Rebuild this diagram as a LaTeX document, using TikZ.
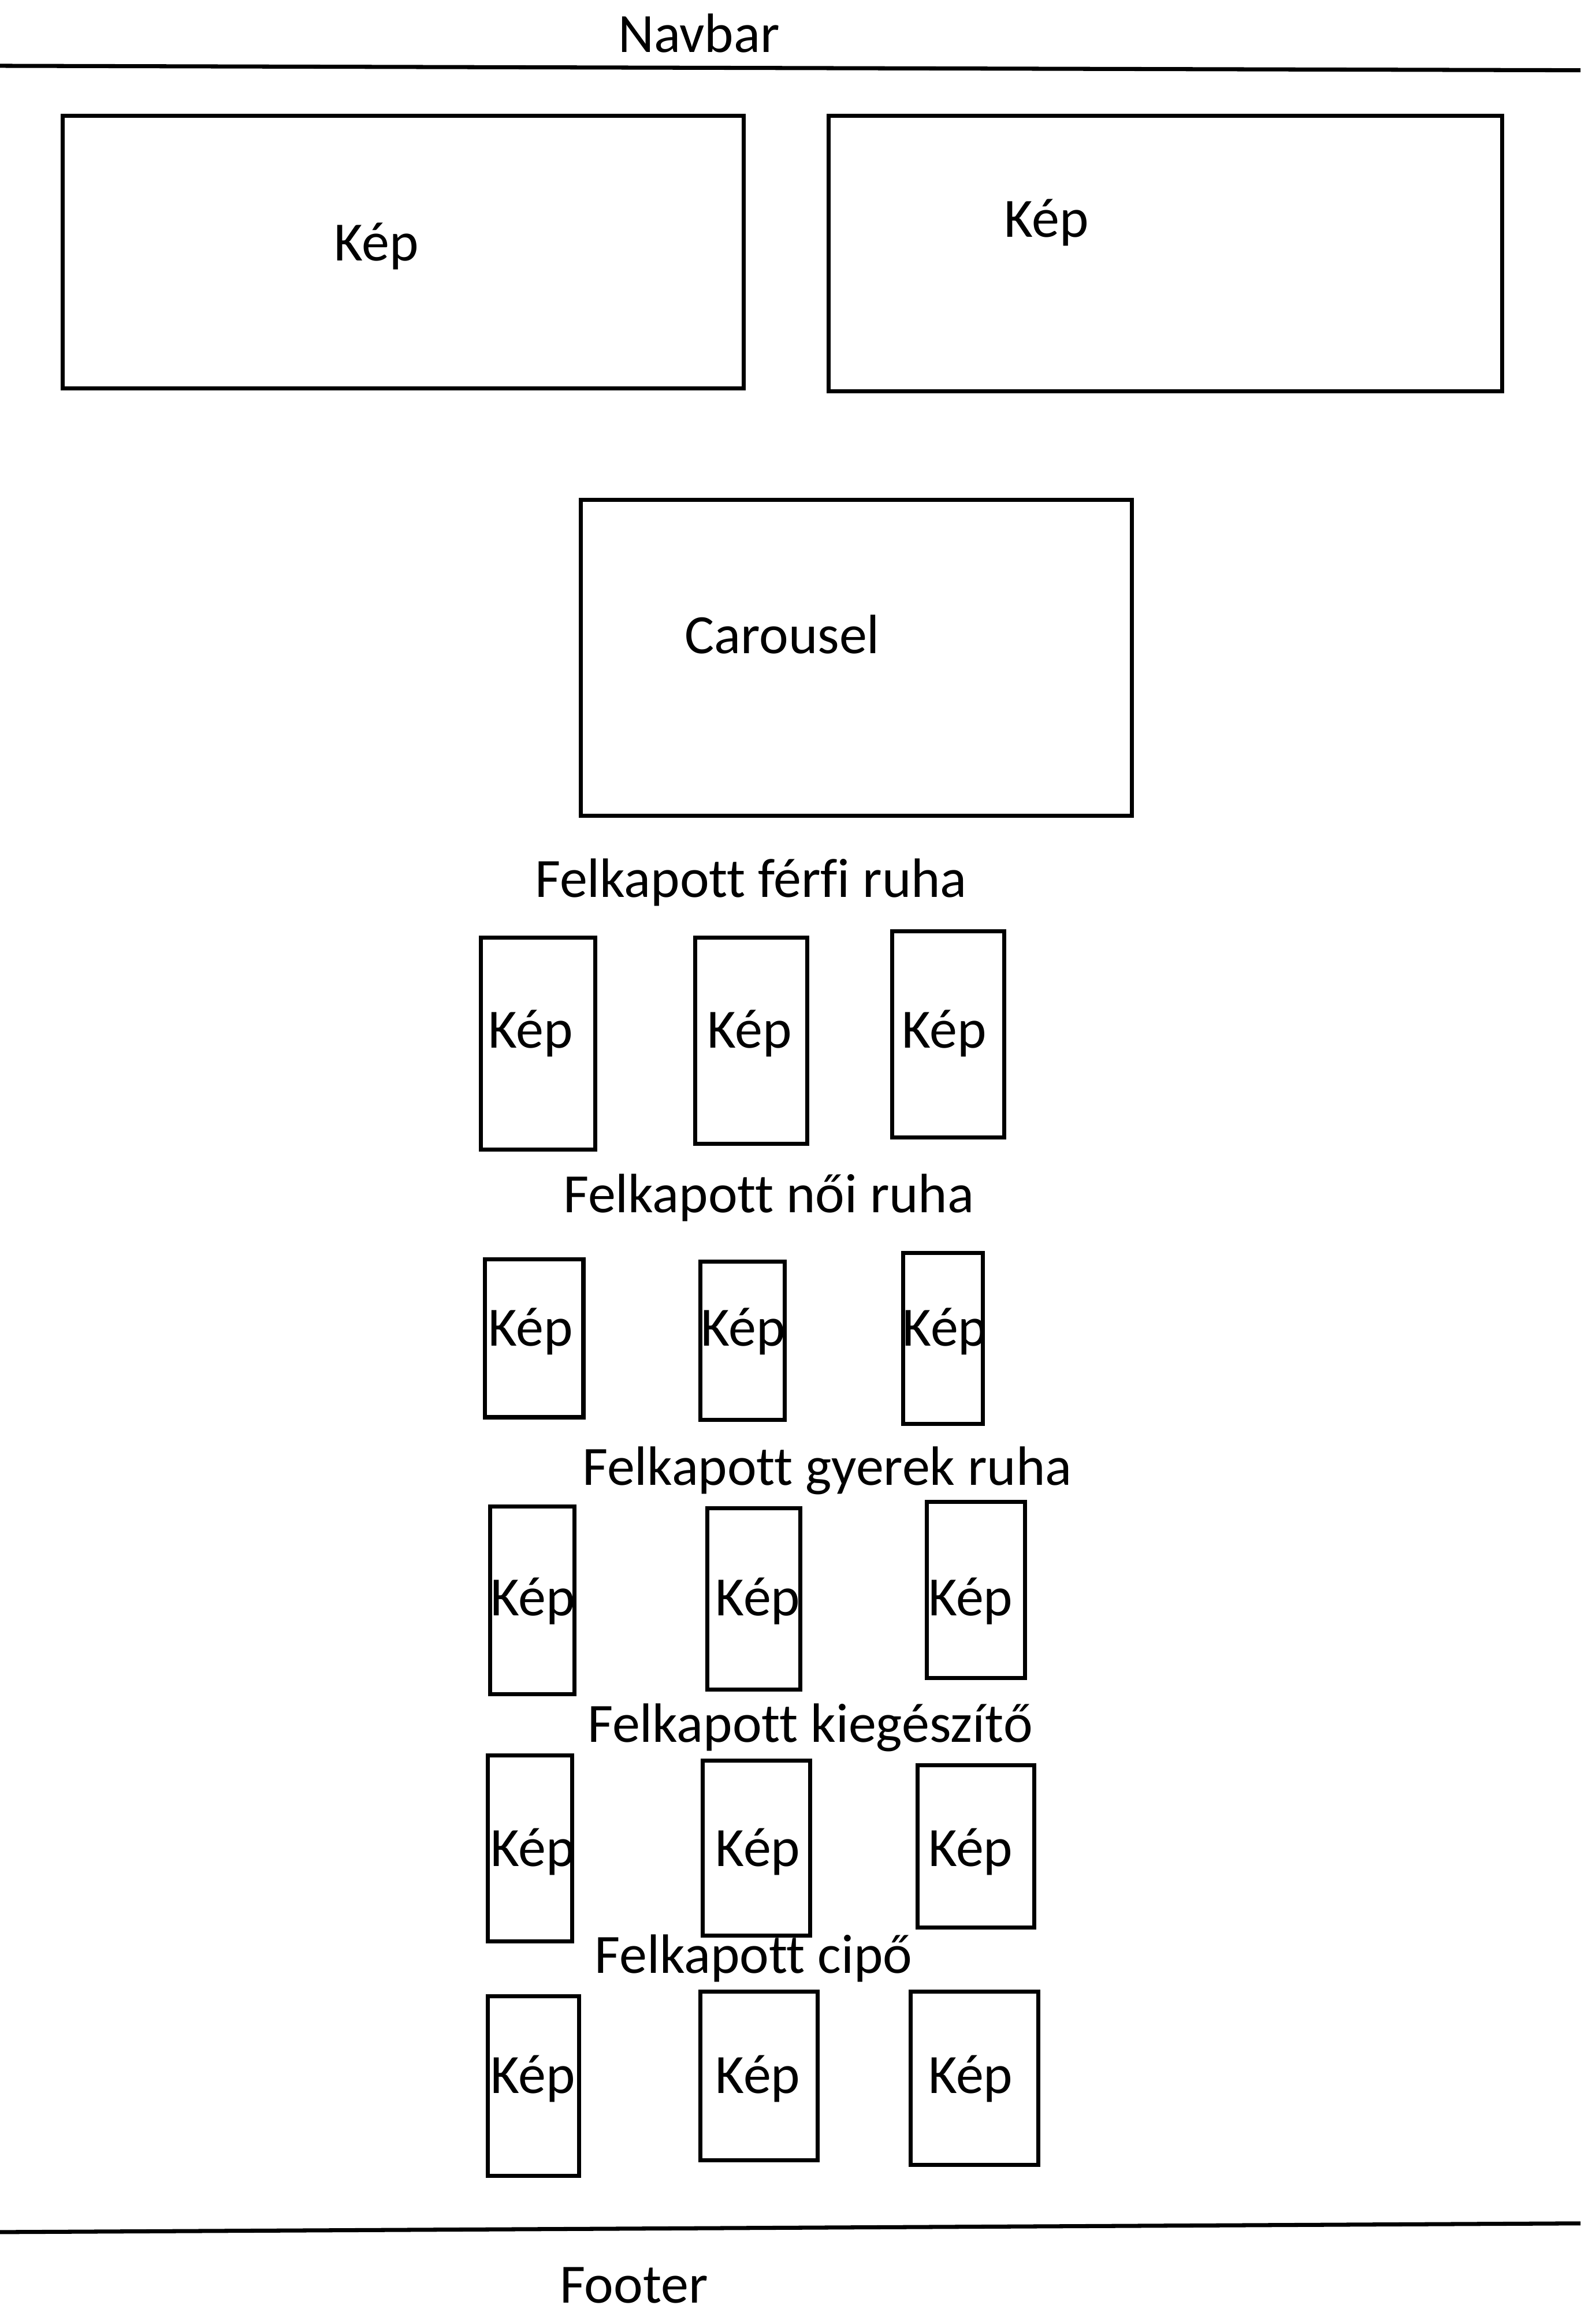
\documentclass[tikz,border=0pt]{standalone}
\usepackage{fontspec}
\setmainfont{Carlito}[RawFeature={-liga;-clig;-dlig;-calt;-hlig}]
\usetikzlibrary{fit}
\begin{document}
\begin{tikzpicture}[x=0.5pt,y=-0.5pt,
  kbox/.style={draw=black,line width=1.37pt,inner sep=0pt,rectangle},
  lbl/.style={inner sep=0pt,anchor=base west,font=\fontsize{18.7}{22}\selectfont},
  rule/.style={line width=1.37pt}]
\useasboundingbox (0,0) rectangle (1066,1567.8);
% navbar
\node[lbl] (navbar) at (416.5,35.2) {Navbar};
\coordinate (navL) at (0,44.4);
\coordinate (navR) at (1066,47.4);
\draw[rule] (navL) -- (navR);
% top images
\node[kbox,fit={(42.2,78.2) (501.8,262.2)}] (top1) {};
\node[lbl] (top1t) at (225,175.8) {Kép};
\node[kbox,fit={(558.8,78.2) (1013,263.9)}] (top2) {};
\node[lbl] (top2t) at (677,160.1) {Kép};
% carousel
\node[kbox,fit={(391.8,337.3) (763.6,550.2)}] (carousel) {};
\node[lbl] (carouselt) at (461.5,440.8) {Carousel};
% row 1
\node[lbl] (h1) at (360.5,605.4) {Felkapott férfi ruha};
\node[kbox,fit={(324.4,632.7) (401.5,775.4)}] (r1a) {};
\node[kbox,fit={(469,632.7) (544.4,771.8)}] (r1b) {};
\node[kbox,fit={(601.8,628.4) (677.3,767.2)}] (r1c) {};
\node[lbl] (r1at) at (329,707) {Kép};
\node[lbl] (r1bt) at (476.5,707) {Kép};
\node[lbl] (r1ct) at (608,707) {Kép};
% row 2
\node[lbl] (h2) at (379.6,817.8) {Felkapott női ruha};
\node[kbox,fit={(327.1,849.5) (393.5,956.1)}] (r2a) {};
\node[kbox,fit={(472.3,851.1) (529.4,957.7)}] (r2b) {};
\node[kbox,fit={(609.2,845.1) (663.1,960.4)}] (r2c) {};
\node[lbl] (r2at) at (329,908) {Kép};
\node[lbl] (r2bt) at (472.4,908) {Kép};
\node[lbl] (r2ct) at (608.5,908) {Kép};
% row 3
\node[lbl] (h3) at (392.5,1001.7) {Felkapott gyerek ruha};
\node[kbox,fit={(330.4,1016.2) (387.3,1143)}] (r3a) {};
\node[kbox,fit={(476.9,1017.6) (539.8,1139.8)}] (r3b) {};
\node[kbox,fit={(625.1,1013.2) (691.2,1132.1)}] (r3c) {};
\node[lbl] (r3at) at (330.5,1089.8) {Kép};
\node[lbl] (r3bt) at (482.3,1089.8) {Kép};
\node[lbl] (r3ct) at (625.7,1089.8) {Kép};
% row 4
\node[lbl] (h4) at (396,1175.3) {Felkapott kiegészítő};
\node[kbox,fit={(329,1184.3) (385.9,1309.7)}] (r4a) {};
\node[kbox,fit={(473.9,1187.9) (546.3,1305.9)}] (r4b) {};
\node[kbox,fit={(618.8,1190.9) (697.5,1300.2)}] (r4c) {};
\node[lbl] (r4at) at (330.5,1259.2) {Kép};
\node[lbl] (r4bt) at (482.3,1259.2) {Kép};
\node[lbl] (r4ct) at (625.7,1259.2) {Kép};
% row 5
\node[lbl] (h5) at (400.7,1331.1) {Felkapott cipő};
\node[kbox,fit={(329,1346.7) (390.6,1468)}] (r5a) {};
\node[kbox,fit={(472.3,1343.7) (551.3,1457.3)}] (r5b) {};
\node[kbox,fit={(614.1,1343.7) (700.5,1460.4)}] (r5c) {};
\node[lbl] (r5at) at (330.5,1412.3) {Kép};
\node[lbl] (r5bt) at (482.3,1412.3) {Kép};
\node[lbl] (r5ct) at (625.7,1412.3) {Kép};
% footer
\coordinate (footL) at (0,1505.8);
\coordinate (footR) at (1066,1499.9);
\draw[rule] (footL) -- (footR);
\node[lbl] (footer) at (377.2,1553.4) {Footer};
\end{tikzpicture}
\end{document}
